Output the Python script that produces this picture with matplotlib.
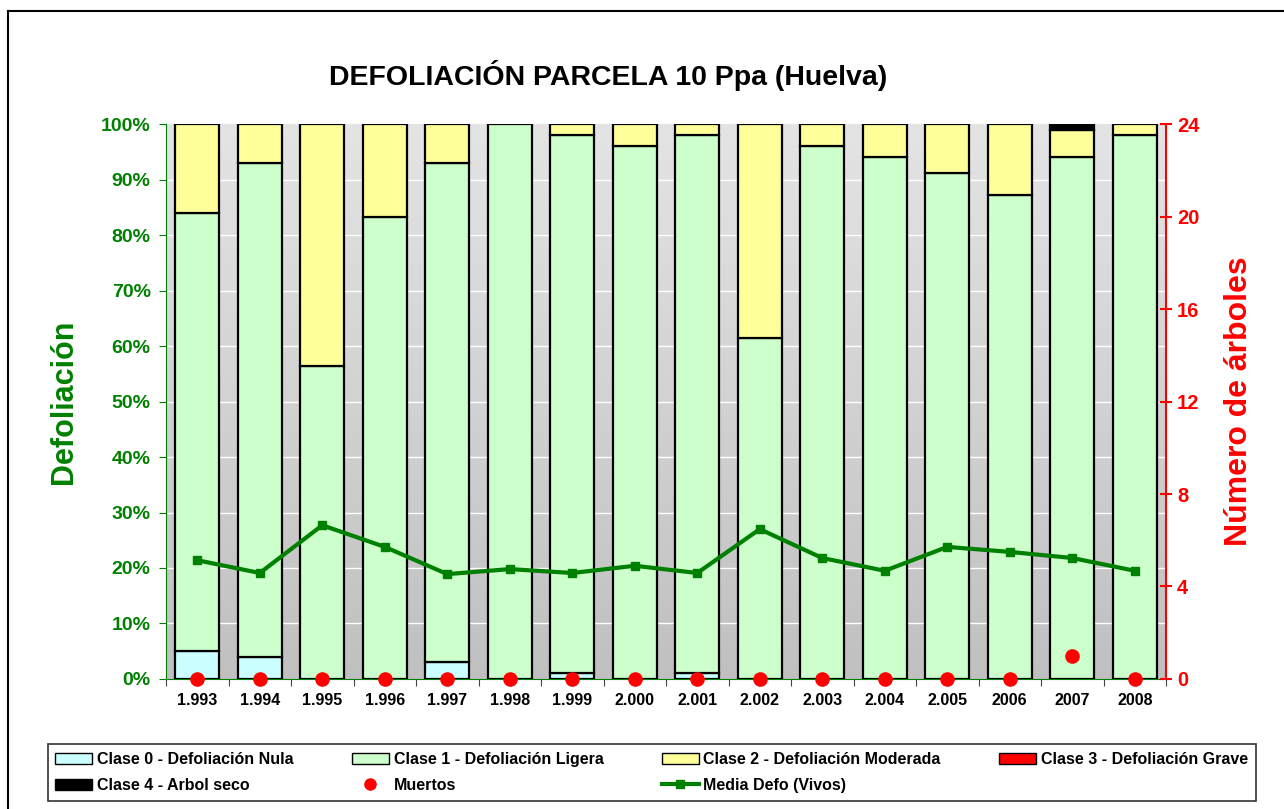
import matplotlib as mpl
import matplotlib.pyplot as plt
import numpy as np
from matplotlib.lines import Line2D
from matplotlib.patches import Patch

plt.rcParams['font.family'] = ['Liberation Sans', 'DejaVu Sans']
plt.rcParams['font.weight'] = 'bold'

# Data
years = ['1.993', '1.994', '1.995', '1.996', '1.997', '1.998', '1.999', '2.000',
         '2.001', '2.002', '2.003', '2.004', '2.005', '2006', '2007', '2008']
clase0 = [5, 4, 0, 0, 3, 0, 1, 0, 1, 0, 0, 0, 0, 0, 0, 0]
clase1 = [79, 89, 56.4, 83.2, 90, 100, 97, 96, 97, 61.4, 96, 94, 91.2, 87.2, 94, 98]
clase2 = [16, 7, 43.6, 16.8, 7, 0, 2, 4, 2, 38.6, 4, 6, 8.8, 12.8, 5, 2]
clase3 = [0] * 16
clase4 = [0, 0, 0, 0, 0, 0, 0, 0, 0, 0, 0, 0, 0, 0, 1, 0]
muertos = [0, 0, 0, 0, 0, 0, 0, 0, 0, 0, 0, 0, 0, 0, 1, 0]
media_defo = [21.4, 19.1, 27.7, 23.8, 18.9, 19.8, 19.1, 20.4, 19.1, 27.0,
              21.8, 19.5, 23.8, 22.9, 21.8, 19.5]

green = '#008000'
c0, c1, c2, c3, c4 = '#CCFFFF', '#CCFFCC', '#FFFF99', '#FF0000', '#000000'

fig = plt.figure(figsize=(12.84, 8.09), dpi=100)
ax = fig.add_axes([0.1293, 0.1607, 0.7788, 0.686])
x = np.arange(len(years))

# gradient background, light at top
grad = np.linspace(0, 1, 256).reshape(-1, 1)
cmap = mpl.colors.LinearSegmentedColormap.from_list('bg', ['#E4E4E4', '#C0C0C0'])
ax.imshow(grad, cmap=cmap, aspect='auto', extent=[-0.5, 15.5, 0, 100],
          zorder=0, origin='upper')
for v in range(10, 100, 10):
    ax.axhline(v, color='white', lw=1, zorder=0.5)

w = 0.71
kw = dict(width=w, edgecolor='black', linewidth=1.6, zorder=2)
b = np.zeros(16)
layers = [(clase0, c0, 'Clase 0 - Defoliación Nula'),
          (clase1, c1, 'Clase 1 - Defoliación Ligera'),
          (clase2, c2, 'Clase 2 - Defoliación Moderada'),
          (clase3, c3, 'Clase 3 - Defoliación Grave'),
          (clase4, c4, 'Clase 4 - Arbol seco')]
for vals, col, lab in layers:
    vals = np.array(vals, dtype=float)
    mask = vals > 0
    ax.bar(x[mask], vals[mask], bottom=b[mask], color=col, **kw)
    b += vals

ax.plot(x, media_defo, color=green, lw=3, marker='s', ms=6, zorder=5)

ax.set_xlim(-0.5, 15.5)
ax.set_ylim(0, 100)
ax.set_yticks(range(0, 101, 10))
ax.set_yticklabels([f'{v}%' for v in range(0, 101, 10)], color=green,
                   fontsize=14, fontweight='bold')
ax.set_xticks(np.arange(-0.5, 16, 1))
ax.set_xticklabels([])
ax.set_xticks(x, minor=True)
ax.set_xticklabels(years, minor=True, fontsize=11.5, fontweight='bold')
ax.tick_params(axis='x', which='major', length=5, color='#444444', direction='out')
ax.tick_params(axis='x', which='minor', length=0, pad=10)
ax.tick_params(axis='y', length=5, color=green, pad=6)
ax.set_ylabel('Defoliación', color=green, fontsize=22, fontweight='bold', labelpad=16)
for s in ['top', 'right']:
    ax.spines[s].set_visible(False)
ax.spines['left'].set_color(green)
ax.spines['bottom'].set_color(green)

ax2 = ax.twinx()
ax2.set_ylim(0, 24)
ax2.set_yticks(range(0, 25, 4))
ax2.set_yticklabels([str(v) for v in range(0, 25, 4)], color='red',
                    fontsize=14.5, fontweight='bold')
ax2.tick_params(axis='y', length=8, color='red', direction='inout', width=1.5, pad=4)
ax2.scatter(x, muertos, s=90, color='red', zorder=10, clip_on=False)
ax2.set_ylabel('Número de árboles', color='red', fontsize=23, fontweight='bold',
               labelpad=18)
for s in ['top', 'left', 'bottom']:
    ax2.spines[s].set_visible(False)
ax2.spines['right'].set_color('red')
ax2.spines['right'].set_linewidth(1.5)

fig.text(0.4735, 0.907, 'DEFOLIACIÓN PARCELA 10 Ppa (Huelva)', ha='center',
         va='center', fontsize=20.5, fontweight='bold')

# legend
handles = [Patch(facecolor=c, edgecolor='black', linewidth=1) for c in (c0, c1, c2, c3, c4)]
labels = [l[2] for l in layers]
h_m = Line2D([], [], color='red', marker='o', ls='none', ms=8)
h_d = Line2D([], [], color=green, marker='s', lw=3, ms=6)
order_h = [handles[0], handles[4], handles[1], h_m, handles[2], h_d, handles[3]]
order_l = [labels[0], labels[4], labels[1], 'Muertos', labels[2],
           'Media Defo (Vivos)', labels[3]]
leg = fig.legend(order_h, order_l, ncol=4, loc='lower left',
                 bbox_to_anchor=(0.037, 0.01, 0.941, 0.075), mode='expand',
                 fancybox=False, edgecolor='black', prop={'size': 11.5, 'weight': 'bold'},
                 handlelength=2.3, handletextpad=0.3, borderaxespad=0,
                 labelspacing=0.7, borderpad=0.5)
leg.get_frame().set_linewidth(1.2)

# outer frame
fig.add_artist(Line2D([0.0065, 0.0065], [0, 0.987], color='black', lw=1.5,
                      transform=fig.transFigure))
fig.add_artist(Line2D([0.0065, 1], [0.987, 0.987], color='black', lw=1.5,
                      transform=fig.transFigure))

fig.savefig('out.png', dpi=100)
